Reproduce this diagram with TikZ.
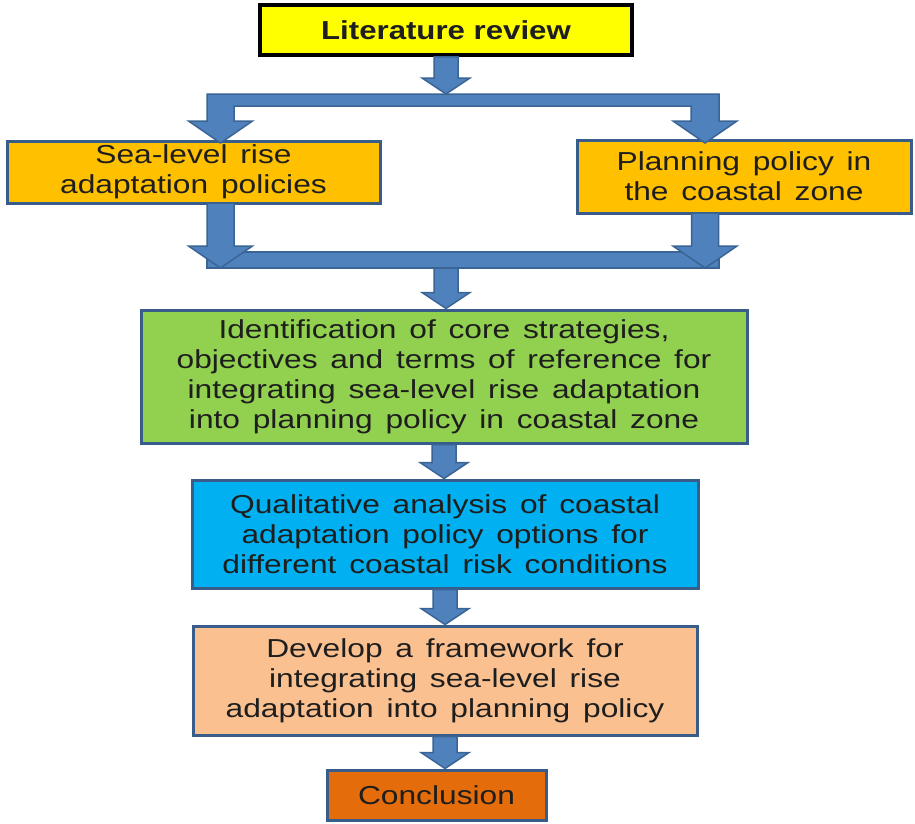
\documentclass[tikz,border=0pt]{standalone}
\usepackage{fontspec}
\setmainfont{Liberation Sans}
\newfontfamily\bodyf[FakeStretch=1.22, WordSpace=1.45]{Liberation Sans}
\newfontfamily\headf[FakeStretch=1.2]{Liberation Sans}
\usetikzlibrary{calc}
\definecolor{arrfill}{HTML}{4F81BD}
\definecolor{arrline}{HTML}{3A6494}
\definecolor{boxline}{HTML}{385D8A}
\definecolor{cyel}{HTML}{FFFF00}
\definecolor{corange}{HTML}{FFC000}
\definecolor{cgreen}{HTML}{92D050}
\definecolor{cblue}{HTML}{00B0F0}
\definecolor{cpeach}{HTML}{FAC090}
\definecolor{cdark}{HTML}{E46C0A}
\definecolor{txt}{HTML}{1E1E1E}
\tikzset{
  boxsty/.style={draw=boxline, line width=3pt, align=center, text=txt,
    font=\bodyf\fontsize{26}{30}\selectfont, inner sep=0pt},
  arrsty/.style={fill=arrfill, draw=arrline, line width=1.5pt, line join=miter}
}
\newcommand\barrow[2]{%
  \draw[arrsty] let \p1=#1, \p2=#2 in
   (\x1-12pt,\y1) -- (\x1+12pt,\y1) -- (\x1+12pt,\y2+16pt) -- (\x1+24pt,\y2+16pt)
   -- (\x1,\y2) -- (\x1-24pt,\y2+16pt) -- (\x1-12pt,\y2+16pt) -- cycle;}
\newcommand\wideArrow[2]{%
  \draw[arrsty] let \p1=#1, \p2=#2 in
   (\x1-13.5pt,\y1) -- (\x1+13.5pt,\y1) -- (\x1+13.5pt,\y2+22pt) -- (\x1+32pt,\y2+22pt)
   -- (\x1,\y2) -- (\x1-32pt,\y2+22pt) -- (\x1-13.5pt,\y2+22pt) -- cycle;}
\begin{document}
\begin{tikzpicture}[x=1pt,y=-1pt]
\path[use as bounding box, fill=white] (0,0) rectangle (915,823);

% boxes
\node[draw=black, line width=3.5pt, fill=cyel, minimum width=372pt, minimum height=50pt,
  font=\headf\fontsize{26}{30}\selectfont\bfseries, text=txt, inner sep=0pt] (lit) at (446,30) {Literature review};
\node[boxsty, fill=corange, minimum width=373pt, minimum height=62pt] (slr) at (193.5,172) {Sea-level rise\\adaptation policies};
\node[boxsty, fill=corange, minimum width=334pt, minimum height=73pt] (plan) at (744,176.5) {Planning policy in\\the coastal zone};
\node[boxsty, fill=cgreen, minimum width=606pt, minimum height=133pt] (ident) at (444,376.5) {Identification of core strategies,\\objectives and terms of reference for\\integrating sea-level rise adaptation\\into planning policy in coastal zone};
\node[boxsty, fill=cblue, minimum width=506pt, minimum height=108pt] (qual) at (445,534) {Qualitative analysis of coastal\\adaptation policy options for\\different coastal risk conditions};
\node[boxsty, fill=cpeach, minimum width=504pt, minimum height=109pt] (dev) at (445,680.5) {Develop a framework for\\integrating sea-level rise\\adaptation into planning policy};
\node[boxsty, fill=cdark, minimum width=219pt, minimum height=50pt] (conc) at (436.5,795) {Conclusion};

% junction coordinates
\coordinate (split) at (446,94);
\coordinate (merge) at (446,268);
\coordinate (slrtop) at (220.5,143);
\coordinate (plantop) at (705,143);
\coordinate (slrbot) at (220.5,203);
\coordinate (planbot) at (705,213);

% literature review -> split bar
\barrow{(lit.south)}{(split)}
% split bar with two down arrows
\draw[arrsty] (207,94) -- (719,94) -- (719,121) -- (737,121) -- (plantop) -- (673,121) -- (691,121)
  -- (691,106) -- (234,106) -- (234,121) -- (252.5,121) -- (slrtop) -- (188.5,121) -- (207,121) -- cycle;

% merge bar
\draw[arrsty] (207,252) rectangle (719,268);
\wideArrow{(slrbot)}{(220.5,268)}
\wideArrow{(planbot)}{(705,268)}
\barrow{(merge)}{(ident.north)}

% chain
\barrow{(ident.south)}{(qual.north)}
\barrow{(qual.south)}{(dev.north)}
\barrow{(dev.south)}{(conc.north)}
\end{tikzpicture}
\end{document}
